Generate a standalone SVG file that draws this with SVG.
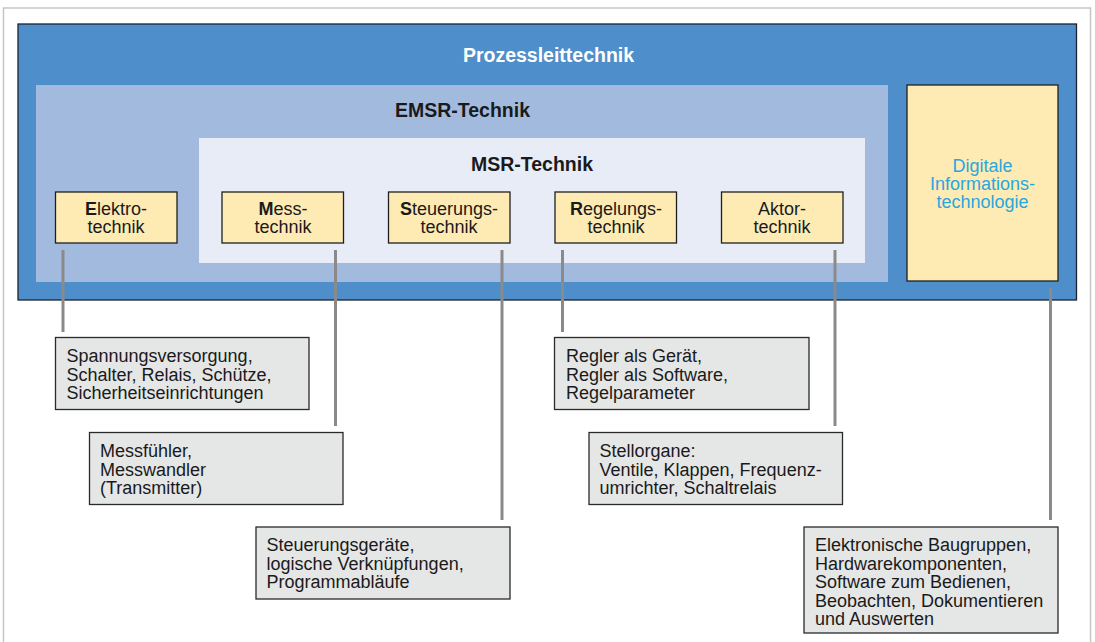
<svg xmlns="http://www.w3.org/2000/svg" width="1095" height="642" viewBox="0 0 1095 642">
  <style>
    text { font-family: "Liberation Sans", Arial, sans-serif; font-size: 18px; fill: #1a1a1a; }
    .title { font-weight: bold; font-size: 19.5px; text-anchor: middle; }
    .mid { text-anchor: middle; }
    .node { fill: #feebb4; stroke: #1f1f1f; stroke-width: 1.3; }
    .info { fill: #e5e6e6; stroke: #2a2a2a; stroke-width: 1.3; }
    .conn { stroke: #8a8a8a; stroke-width: 3; fill: none; }
  </style>
  <rect x="0" y="0" width="1095" height="642" fill="#ffffff"/>
  <!-- page frame -->
  <rect x="3.5" y="8" width="1087" height="660" fill="none" stroke="#c6c6c6" stroke-width="1.5"/>

  <!-- nested domains -->
  <g id="prozessleittechnik">
    <rect x="18" y="24" width="1058.5" height="276" fill="#4d8ecb" stroke="#1b2430" stroke-width="1.3"/>
    <text class="title" x="548.5" y="62" style="fill:#ffffff">Prozessleittechnik</text>
  </g>
  <g id="emsr">
    <rect x="36" y="85" width="852" height="197" fill="#a3badf"/>
    <text class="title" x="462.5" y="117">EMSR-Technik</text>
  </g>
  <g id="msr">
    <rect x="199" y="138" width="666" height="125" fill="#e8ecf7"/>
    <text class="title" x="532" y="171">MSR-Technik</text>
  </g>

  <!-- connectors -->
  <g id="connectors">
    <line class="conn" x1="63" y1="250" x2="63" y2="332"/>
    <line class="conn" x1="335.5" y1="250" x2="335.5" y2="426"/>
    <line class="conn" x1="502" y1="250" x2="502" y2="520"/>
    <line class="conn" x1="562.5" y1="250" x2="562.5" y2="332"/>
    <line class="conn" x1="835" y1="250" x2="835" y2="426"/>
    <line class="conn" x1="1050.5" y1="288" x2="1050.5" y2="520"/>
  </g>

  <!-- discipline nodes -->
  <g id="elektrotechnik">
    <rect class="node" x="55.5" y="192" width="121.5" height="51"/>
    <text class="mid" x="116" y="215"><tspan font-weight="bold">E</tspan>lektro-</text>
    <text class="mid" x="116" y="233">technik</text>
  </g>
  <g id="messtechnik">
    <rect class="node" x="222" y="192" width="121.5" height="51"/>
    <text class="mid" x="283" y="215"><tspan font-weight="bold">M</tspan>ess-</text>
    <text class="mid" x="283" y="233">technik</text>
  </g>
  <g id="steuerungstechnik">
    <rect class="node" x="388.5" y="192" width="121.5" height="51"/>
    <text class="mid" x="449" y="215"><tspan font-weight="bold">S</tspan>teuerungs-</text>
    <text class="mid" x="449" y="233">technik</text>
  </g>
  <g id="regelungstechnik">
    <rect class="node" x="555" y="192" width="121.5" height="51"/>
    <text class="mid" x="616" y="215"><tspan font-weight="bold">R</tspan>egelungs-</text>
    <text class="mid" x="616" y="233">technik</text>
  </g>
  <g id="aktortechnik">
    <rect class="node" x="721.5" y="192" width="121.5" height="51"/>
    <text class="mid" x="782" y="215">Aktor-</text>
    <text class="mid" x="782" y="233">technik</text>
  </g>
  <g id="digitale-it">
    <rect class="node" x="907" y="85" width="151" height="196"/>
    <text class="mid" x="982.5" y="172" style="fill:#29a6df">Digitale</text>
    <text class="mid" x="982.5" y="190" style="fill:#29a6df">Informations-</text>
    <text class="mid" x="982.5" y="208" style="fill:#29a6df">technologie</text>
  </g>

  <!-- detail boxes -->
  <g id="info-elektro">
    <rect class="info" x="55.5" y="337.5" width="253.5" height="72"/>
    <text x="66.5" y="362">Spannungsversorgung,</text>
    <text x="66.5" y="380.5">Schalter, Relais, Schütze,</text>
    <text x="66.5" y="399">Sicherheitseinrichtungen</text>
  </g>
  <g id="info-mess">
    <rect class="info" x="89.5" y="432.5" width="253.5" height="72"/>
    <text x="100" y="457">Messfühler,</text>
    <text x="100" y="475.5">Messwandler</text>
    <text x="100" y="494">(Transmitter)</text>
  </g>
  <g id="info-steuerung">
    <rect class="info" x="256" y="527" width="254" height="72"/>
    <text x="266.5" y="551">Steuerungsgeräte,</text>
    <text x="266.5" y="569.5">logische Verknüpfungen,</text>
    <text x="266.5" y="588">Programmabläufe</text>
  </g>
  <g id="info-regelung">
    <rect class="info" x="554.5" y="337.5" width="254.5" height="72"/>
    <text x="566" y="362">Regler als Gerät,</text>
    <text x="566" y="380.5">Regler als Software,</text>
    <text x="566" y="399">Regelparameter</text>
  </g>
  <g id="info-aktor">
    <rect class="info" x="589" y="432.5" width="253.5" height="72"/>
    <text x="599.5" y="457">Stellorgane:</text>
    <text x="599.5" y="475.5">Ventile, Klappen, Frequenz-</text>
    <text x="599.5" y="494">umrichter, Schaltrelais</text>
  </g>
  <g id="info-digital">
    <rect class="info" x="804" y="527" width="254" height="106"/>
    <text x="815" y="551">Elektronische Baugruppen,</text>
    <text x="815" y="569.5">Hardwarekomponenten,</text>
    <text x="815" y="588">Software zum Bedienen,</text>
    <text x="815" y="606.5">Beobachten, Dokumentieren</text>
    <text x="815" y="625">und Auswerten</text>
  </g>
</svg>
